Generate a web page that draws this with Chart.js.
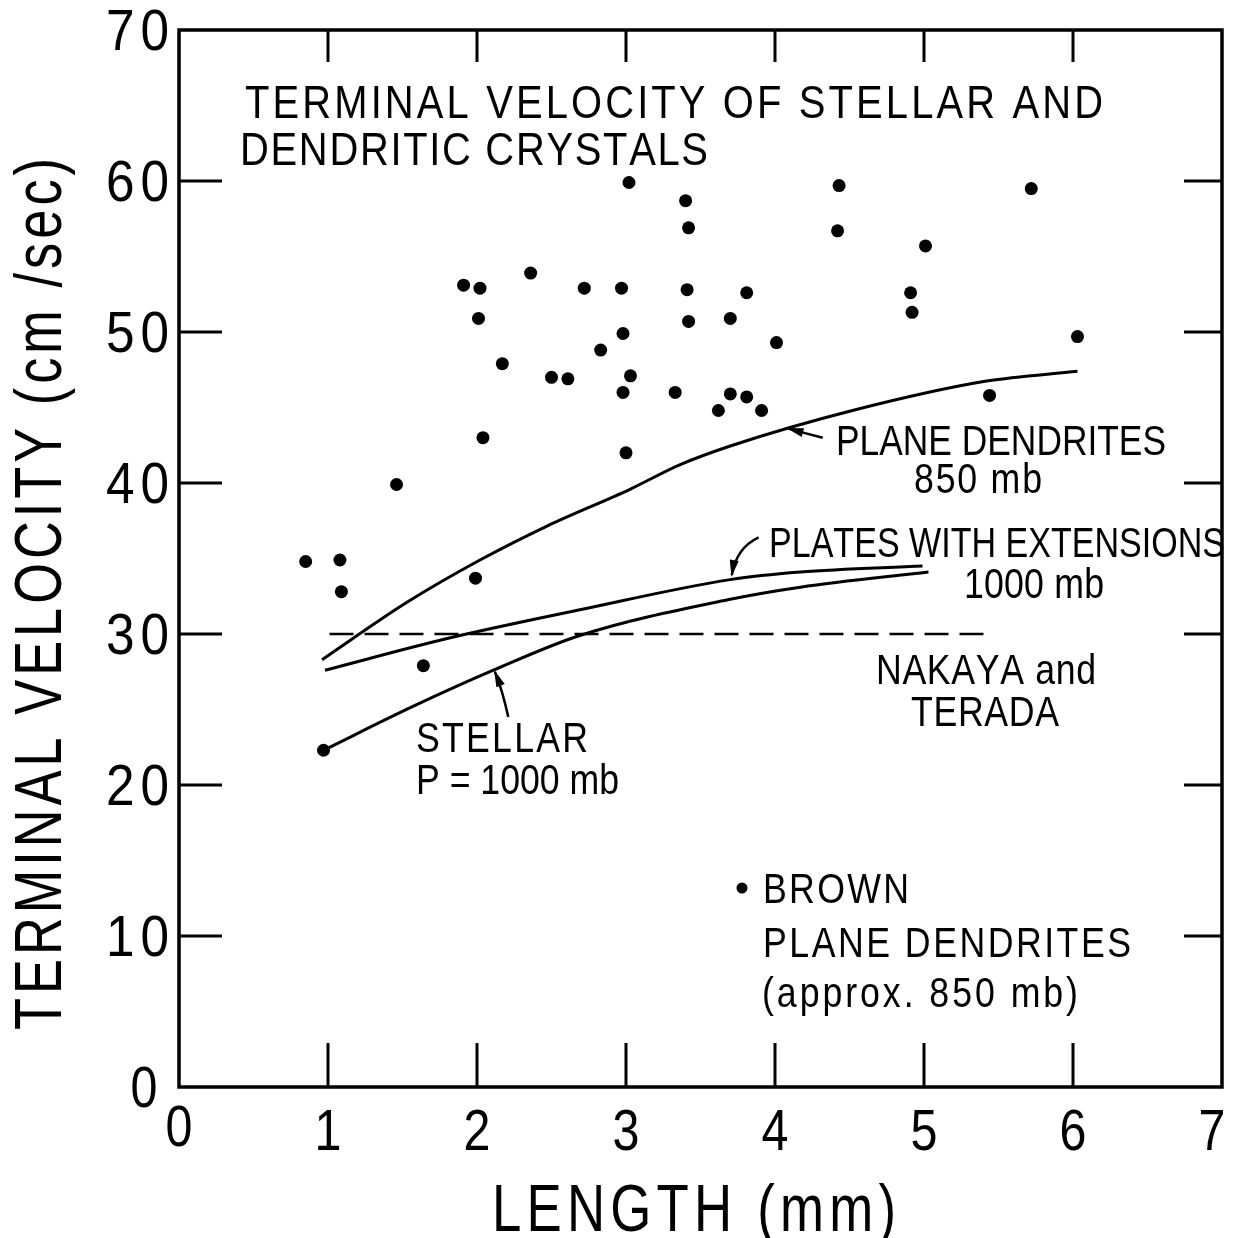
<!DOCTYPE html>
<html><head><meta charset="utf-8">
<script src="https://cdn.jsdelivr.net/npm/chart.js@4.4.1/dist/chart.umd.min.js"></script>
<style>html,body{margin:0;padding:0;background:#fff;} canvas{display:block;}</style>
</head><body>
<canvas id="c" width="1235" height="1238"></canvas>
<script>
// ---- data ----
const xTicks = [0, 1, 2, 3, 4, 5, 6, 7];
const yTicks = [0, 10, 20, 30, 40, 50, 60, 70];

// Brown, plane dendrites (approx. 850 mb)
const brownX = [0.85,1.08,1.09,1.46,1.64,0.97,1.91,2.02,2.01,2.04,1.99,2.17,2.36,2.50,2.61,2.72,2.83,2.97,2.98,3.03,2.98,3.00,3.02,3.40,3.42,3.41,3.42,3.33,3.70,3.70,3.81,3.81,3.62,3.91,4.01,4.43,4.42,5.01,4.91,4.92,5.72,6.03,5.44];
const brownY = [34.8,34.9,32.8,39.9,27.9,22.3,53.1,52.9,50.9,43.0,33.7,47.9,53.9,47.0,46.9,52.9,48.8,52.9,49.9,47.1,46.0,42.0,59.9,58.7,56.9,52.8,50.7,46.0,50.9,45.9,52.6,45.7,44.8,44.8,49.3,59.7,56.7,55.7,52.6,51.3,59.5,49.7,45.8];

// Plane dendrites 850 mb
const planeX = [0.96,1.53,2.02,2.47,3.03,3.36,3.70,4.52,5.42,6.03];
const planeY = [28.3,32.1,34.9,37.15,39.6,41.2,42.45,44.8,46.75,47.4];
// Plates with extensions 1000 mb
const platesX = [0.98,1.80,2.69,3.70,4.17,4.99];
const platesY = [27.6,29.7,31.6,33.6,34.1,34.5];
// Stellar P = 1000 mb
const stellarX = [0.97,1.57,2.11,2.69,3.70,4.17,5.03];
const stellarY = [22.3,25.2,27.6,29.9,32.3,33.1,34.1];
// Nakaya and Terada
const nakayaX = [1.01, 5.42];
const nakayaY = [30.0, 30.0];

// arrows (data units): tail, control, tip
const arrows = [
  [[4.32,43.0],[4.20,43.3],[4.09,43.6]],
  [[3.89,36.4],[3.74,35.7],[3.71,33.9]],
  [[2.21,24.5],[2.17,26.3],[2.12,27.5]]
];

const pts = (xs, ys) => xs.map((v, i) => ({x: v, y: ys[i]}));

const FONT = '"Liberation Sans", Arial, sans-serif';
function drawSpaced(ctx, str, x, yb, o) {
  ctx.font = `${o.size}px ${FONT}`;
  const sx = o.sx || 1;
  const chars = [...str];
  const ws = chars.map(ch => ctx.measureText(ch).width * sx);
  const sum = ws.reduce((a, b) => a + b, 0);
  let extra = o.extra || 0, gs = 1;
  if (o.width) {
    extra = (o.width - sum) / Math.max(1, chars.length - 1);
    if (extra < 0) { gs = o.width / sum; extra = 0; }
  }
  const total = sum * gs + extra * (chars.length - 1);
  let cx = x;
  if (o.align === 'center') cx = x - total / 2;
  else if (o.align === 'right') cx = x - total;
  chars.forEach((ch, i) => {
    ctx.save(); ctx.translate(cx, yb); ctx.scale(sx * gs, 1);
    ctx.fillText(ch, 0, 0); ctx.restore();
    cx += ws[i] * gs + extra;
  });
}

const deco = {
  id: 'deco',
  afterDatasetsDraw(chart) {
    const {ctx, scales: {x, y}} = chart;
    const L = x.getPixelForValue(0), R = x.getPixelForValue(7);
    const T = y.getPixelForValue(70), B = y.getPixelForValue(0);
    ctx.save();
    ctx.strokeStyle = '#000'; ctx.fillStyle = '#000';
    ctx.textBaseline = 'alphabetic'; ctx.textAlign = 'left';
    // frame
    ctx.lineWidth = 3.5;
    ctx.strokeRect(L, T, R - L, B - T);
    // ticks
    ctx.lineWidth = 3;
    ctx.beginPath();
    xTicks.forEach(v => {
      if (v > 0 && v < 7) {
        const px = x.getPixelForValue(v);
        ctx.moveTo(px, B); ctx.lineTo(px, B - 44);
        ctx.moveTo(px, T); ctx.lineTo(px, T + 32);
      }
    });
    yTicks.forEach(v => {
      if (v > 0 && v < 70) {
        const py = y.getPixelForValue(v);
        ctx.moveTo(L, py); ctx.lineTo(L + 43, py);
        ctx.moveTo(R, py); ctx.lineTo(R - 38, py);
      }
    });
    ctx.stroke();

    // tick labels
    const dsz = 57, dh = dsz * 0.716;
    yTicks.forEach(v => {
      const py = y.getPixelForValue(v);
      if (v === 0) drawSpaced(ctx, '0', 144, py + dh / 2, {size: dsz, sx: 0.85, align: 'center'});
      else drawSpaced(ctx, String(v), 169, py + dh / 2, {size: dsz, sx: 0.9, align: 'right', extra: 6});
    });
    xTicks.forEach(v => {
      const px = x.getPixelForValue(v);
      const cy = v === 0 ? 1126 : 1130;
      const cx = v === 7 ? px - 10 : px;
      drawSpaced(ctx, String(v), cx, cy + dh / 2, {size: dsz, sx: 0.85, align: 'center'});
    });

    // axis titles
    drawSpaced(ctx, 'LENGTH (mm)', 492, 1231, {size: 66, sx: 0.8, width: 404});
    ctx.save();
    ctx.translate(61, 1030); ctx.rotate(-Math.PI / 2);
    drawSpaced(ctx, 'TERMINAL VELOCITY (cm /sec)', 0, 0, {size: 67, sx: 0.78, width: 872});
    ctx.restore();

    // title
    drawSpaced(ctx, 'TERMINAL VELOCITY OF STELLAR AND', 245, 118, {size: 47, sx: 0.85, width: 858});
    drawSpaced(ctx, 'DENDRITIC CRYSTALS', 240, 165, {size: 47, sx: 0.85, width: 468});

    // annotations
    const as = 42, asx = 0.85;
    drawSpaced(ctx, 'PLANE DENDRITES', 836, 455, {size: as, sx: asx, width: 330});
    drawSpaced(ctx, '850 mb', 914, 493, {size: as, sx: asx, width: 128});
    drawSpaced(ctx, 'PLATES WITH EXTENSIONS', 769, 557, {size: as, sx: asx, width: 456});
    drawSpaced(ctx, '1000 mb', 964, 598, {size: as, sx: asx, width: 140});
    drawSpaced(ctx, 'NAKAYA and', 876, 684, {size: as, sx: asx, width: 220});
    drawSpaced(ctx, 'TERADA', 911, 726, {size: as, sx: asx, width: 148});
    drawSpaced(ctx, 'STELLAR', 416, 752, {size: as, sx: asx, width: 172});
    drawSpaced(ctx, 'P = 1000 mb', 416, 794, {size: as, sx: asx, width: 203});
    drawSpaced(ctx, 'BROWN', 763, 903, {size: as, sx: asx, width: 146});
    drawSpaced(ctx, 'PLANE DENDRITES', 763, 957, {size: as, sx: asx, width: 368});
    drawSpaced(ctx, '(approx. 850 mb)', 762, 1007, {size: as, sx: asx, width: 316});
    // key marker
    ctx.beginPath(); ctx.arc(742, 888, 5.5, 0, Math.PI * 2); ctx.fill();

    // arrows
    ctx.lineWidth = 2.5;
    arrows.forEach(a => {
      const p = a.map(q => [x.getPixelForValue(q[0]), y.getPixelForValue(q[1])]);
      ctx.beginPath();
      ctx.moveTo(p[0][0], p[0][1]);
      ctx.quadraticCurveTo(p[1][0], p[1][1], p[2][0], p[2][1]);
      ctx.stroke();
      const dx = p[2][0] - p[1][0], dy = p[2][1] - p[1][1];
      const len = Math.hypot(dx, dy) || 1;
      const ux = dx / len, uy = dy / len;
      const hl = 15, hw = 4.5;
      const bx = p[2][0] - ux * hl, by = p[2][1] - uy * hl;
      ctx.beginPath();
      ctx.moveTo(p[2][0] + ux * 2, p[2][1] + uy * 2);
      ctx.lineTo(bx - uy * hw, by + ux * hw);
      ctx.lineTo(bx + uy * hw, by - ux * hw);
      ctx.closePath(); ctx.fill();
    });
    ctx.restore();
  }
};

const lineDs = (xs, ys, extra) => Object.assign({
  data: pts(xs, ys), showLine: true, borderColor: '#000', borderWidth: 3,
  pointRadius: 0, cubicInterpolationMode: 'monotone', fill: false
}, extra || {});

new Chart(document.getElementById('c'), {
  type: 'scatter',
  data: {
    datasets: [
      {label: 'Brown plane dendrites', data: pts(brownX, brownY), pointRadius: 6.5,
       pointBackgroundColor: '#000', pointBorderWidth: 0, showLine: false},
      lineDs(planeX, planeY, {label: 'Plane dendrites 850 mb'}),
      lineDs(platesX, platesY, {label: 'Plates with extensions 1000 mb'}),
      lineDs(stellarX, stellarY, {label: 'Stellar P = 1000 mb'}),
      lineDs(nakayaX, nakayaY, {label: 'Nakaya and Terada', borderWidth: 2.5, borderDash: [24, 11]})
    ]
  },
  options: {
    responsive: false, animation: false, devicePixelRatio: 1,
    layout: {padding: {left: 179, right: 13, top: 30, bottom: 151}},
    plugins: {legend: {display: false}, tooltip: {enabled: false}},
    scales: {
      x: {type: 'linear', min: 0, max: 7, display: false},
      y: {type: 'linear', min: 0, max: 70, display: false}
    }
  },
  plugins: [deco]
});
</script>
</body></html>
